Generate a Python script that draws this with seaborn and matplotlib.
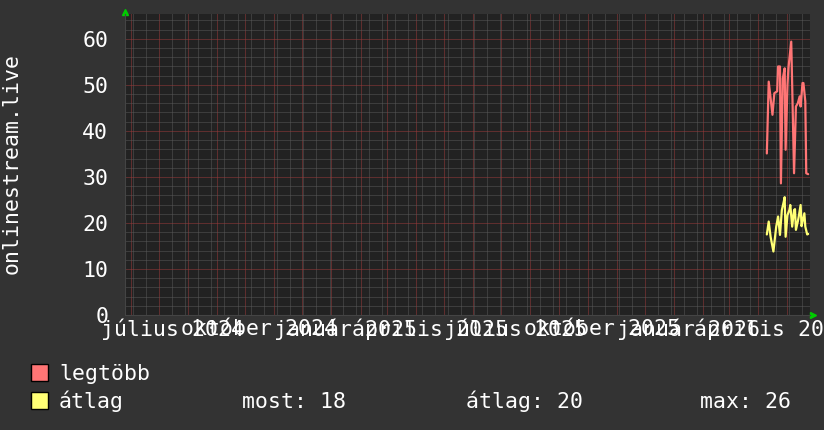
import pandas as pd
import numpy as np
import matplotlib
matplotlib.use("Agg")
import matplotlib.pyplot as plt
from matplotlib.patches import Rectangle
import seaborn as sns

# --- data ---
max_dates = ["2026-04-10", "2026-04-12", "2026-04-16", "2026-04-18", "2026-04-21",
             "2026-04-22", "2026-04-24", "2026-04-25", "2026-04-27", "2026-04-29",
             "2026-04-30", "2026-05-02", "2026-05-03", "2026-05-06", "2026-05-07",
             "2026-05-09", "2026-05-11", "2026-05-13", "2026-05-15", "2026-05-16",
             "2026-05-18", "2026-05-19", "2026-05-21", "2026-05-22", "2026-05-24"]
max_values = [35.1, 50.7, 43.5, 48.2, 48.6,
              54.0, 54.0, 28.6, 51.4, 53.6,
              35.9, 50.0, 53.6, 59.4, 50.0,
              30.8, 45.3, 46.0, 47.5, 45.3,
              50.4, 50.4, 46.4, 30.8, 30.6]

avg_dates = ["2026-04-10", "2026-04-12", "2026-04-14", "2026-04-17", "2026-04-20",
             "2026-04-22", "2026-04-24", "2026-04-26", "2026-04-28", "2026-04-29",
             "2026-04-30", "2026-05-02", "2026-05-04", "2026-05-05", "2026-05-07",
             "2026-05-09", "2026-05-10", "2026-05-11", "2026-05-13", "2026-05-14",
             "2026-05-16", "2026-05-17", "2026-05-18", "2026-05-20", "2026-05-21",
             "2026-05-23", "2026-05-24"]
avg_values = [17.5, 20.3, 17.0, 13.8, 19.2,
              21.4, 17.4, 22.8, 24.6, 25.6,
              17.0, 21.7, 22.8, 23.9, 19.2,
              22.8, 23.0, 18.5, 20.3, 21.4,
              23.9, 19.3, 20.3, 22.1, 19.2,
              17.5, 17.6]

label_dates = ["2024-07-16", "2024-10-16", "2025-01-16", "2025-04-16",
               "2025-07-16", "2025-10-16", "2026-01-16", "2026-04-16"]
label_texts = ["július 2024", "október 2024", "január 2025", "április 2025",
               "július 2025", "október 2025", "január 2026", "április 2026"]

series_names = ["legtöbb", "átlag"]
series_colors = ["#ff7575", "#ffff75"]
legend_stats = ["most: 18", "átlag: 20", "max: 26"]
y_title = "onlinestream.live"

x_start, x_end = "2024-05-26", "2026-05-26"

df = pd.concat([
    pd.DataFrame({"date": pd.to_datetime(max_dates), "value": max_values, "series": series_names[0]}),
    pd.DataFrame({"date": pd.to_datetime(avg_dates), "value": avg_values, "series": series_names[1]}),
])

BG = "#333333"
CANVAS = "#222222"
MONO = ["DejaVu Sans Mono"]
FS = 15.5

sns.set_style("dark")
plt.rcParams["font.family"] = MONO

W, H = 824, 430
fig = plt.figure(figsize=(W / 100, H / 100), dpi=100, facecolor=BG)
L, R, T, B = 125, 810, 14, 315
ax = fig.add_axes([L / W, 1 - B / H, (R - L) / W, (B - T) / H])
ax.set_facecolor(CANVAS)

sns.lineplot(data=df, x="date", y="value", hue="series", palette=series_colors,
             linewidth=1.6, legend=False, ax=ax, zorder=3)

ax.set_xlim(pd.Timestamp(x_start), pd.Timestamp(x_end))
ax.set_ylim(0, 65.4)

# grid: months (red) and every other Monday (grey)
month_ticks = pd.date_range(x_start, x_end, freq="MS")
week_ticks = pd.date_range("2024-06-03", x_end, freq="14D")
week_ticks = week_ticks[~week_ticks.isin(month_ticks)]
ax.set_xticks(month_ticks)
ax.set_xticks(week_ticks, minor=True)
ax.set_xticklabels([])
ax.set_yticks(np.arange(0, 61, 10))
ax.set_yticks(np.arange(0, 65, 2), minor=True)
ax.set_yticklabels([str(v) for v in range(0, 61, 10)], color="white", fontsize=FS)
ax.tick_params(axis="y", which="both", length=0, pad=12)
ax.tick_params(axis="x", which="major", length=3, color="#aa3333", direction="out")
ax.tick_params(axis="x", which="minor", length=2, color="#666666", direction="out")
ax.grid(which="minor", color="#595959", linestyle=(0, (1, 1)), linewidth=0.72,
        snap=True)
ax.grid(which="major", color="#9c3a3a", linestyle=(0, (1, 1)), linewidth=0.72,
        snap=True)
ax.set_axisbelow(True)
ax.set_xlabel("")
ax.set_ylabel("")
for side in ["top", "right"]:
    ax.spines[side].set_visible(False)
ax.spines["left"].set_color("#444444")
ax.spines["bottom"].set_color("#444444")

for d, t in zip(label_dates, label_texts):
    ax.text(pd.Timestamp(d), -0.048, t, transform=ax.get_xaxis_transform(),
            ha="center", va="center", color="white", fontsize=FS, clip_on=False)

# axis arrows
ax.plot([0], [1.005], marker="^", color="#00cc00", markersize=5,
        transform=ax.transAxes, clip_on=False)
ax.plot([1.004], [0], marker=">", color="#00cc00", markersize=5,
        transform=ax.transAxes, clip_on=False)

fig.text(12 / W, 1 - 164 / H, y_title, rotation=90, ha="center", va="center",
         color="white", fontsize=FS)

# legend
rows = [380, 408]
for name, col, base in zip(series_names, series_colors, rows):
    fig.patches.append(Rectangle((31 / W, 1 - (base + 1) / H), 17 / W, 17 / H,
                                 transform=fig.transFigure, facecolor=col,
                                 edgecolor="black", linewidth=1))
    fig.text(59 / W, 1 - base / H, name, ha="left", va="baseline",
             color="white", fontsize=FS)
for x, s in zip([242, 466, 700], legend_stats):
    fig.text(x / W, 1 - rows[1] / H, s, ha="left", va="baseline",
             color="white", fontsize=FS)

fig.savefig("out.png", dpi=100, facecolor=BG)
